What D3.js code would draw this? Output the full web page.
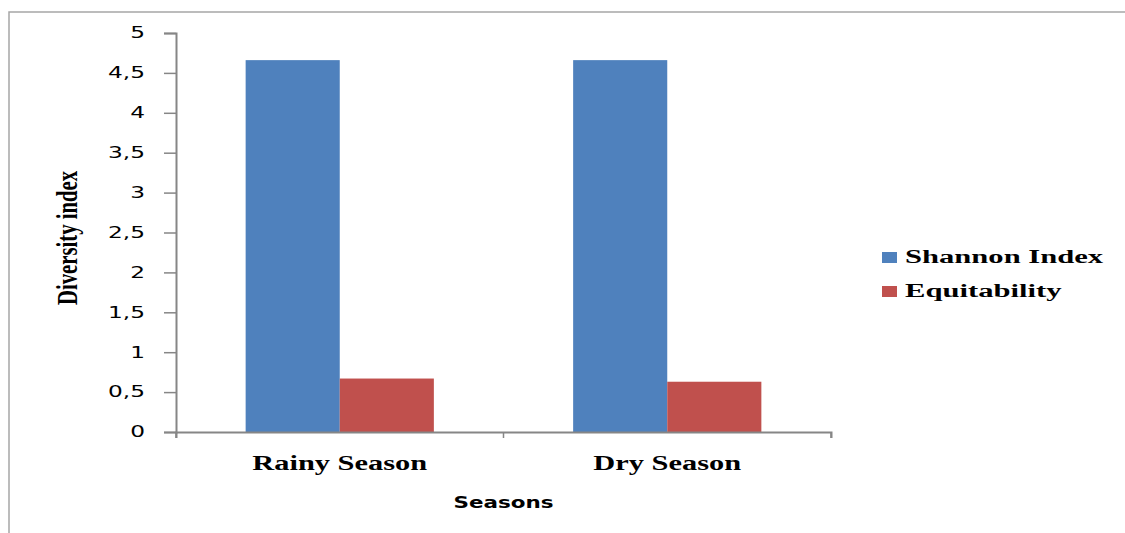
<!DOCTYPE html>
<html>
<head>
<meta charset="utf-8">
<script src="https://cdn.jsdelivr.net/npm/d3@7"></script>
<style>
  body { margin: 0; background: #fff; overflow: hidden; }
  svg { display: block; }
</style>
</head>
<body>
<div id="chart"></div>
<script>
// data
var seasons = ["Rainy Season", "Dry Season"];
var seriesNames = ["Shannon Index", "Equitability"];
var shannonValues = [4.66, 4.66];
var equitabilityValues = [0.67, 0.63];
var yTicks = [0, 0.5, 1, 1.5, 2, 2.5, 3, 3.5, 4, 4.5, 5];

var colors = {"Shannon Index": "#4F81BD", "Equitability": "#C0504D"};

var width = 1125, height = 533;
var margins = {top: 33, left: 176, right: 294, bottom: 101};
var plotW = width - margins.left - margins.right;
var plotH = height - margins.top - margins.bottom;

var rows = seasons.map(function(s, i) {
    return {season: s, values: [
        {name: seriesNames[0], value: shannonValues[i]},
        {name: seriesNames[1], value: equitabilityValues[i]}
    ]};
});

var svg = d3.select("#chart").append("svg")
    .attr("width", width)
    .attr("height", height);

// outer frame (only the left and top edges are in view)
svg.append("path")
    .attr("d", "M9," + (height + 5) + "V12H" + (width + 5))
    .attr("fill", "none")
    .attr("stroke", "#a6a6a6")
    .attr("stroke-width", 1.5);

// stretch text horizontally like the original (wide glyphs)
function stretch(sel, factor) {
    sel.each(function() {
        var len = this.getComputedTextLength();
        d3.select(this)
            .attr("textLength", len * factor)
            .attr("lengthAdjust", "spacingAndGlyphs");
    });
}

var g = svg.append("g")
    .attr("transform", "translate(" + margins.left + "," + margins.top + ")");

var x0 = d3.scaleBand()
    .domain(seasons)
    .range([0, plotW])
    .padding(0);

var x1 = d3.scaleBand()
    .domain(seriesNames)
    .range([0, x0.bandwidth()])
    .paddingInner(0)
    .paddingOuter(0.74);

var y = d3.scaleLinear()
    .domain([0, 5])
    .range([plotH, 0]);

// bars
g.selectAll(".group")
    .data(rows)
    .enter().append("g")
    .attr("class", "group")
    .attr("transform", function(d) { return "translate(" + x0(d.season) + ",0)"; })
    .selectAll("rect")
    .data(function(d) { return d.values; })
    .enter().append("rect")
    .attr("x", function(d) { return x1(d.name); })
    .attr("y", function(d) { return y(d.value); })
    .attr("width", x1.bandwidth())
    .attr("height", function(d) { return plotH - y(d.value); })
    .attr("fill", function(d) { return colors[d.name]; });

// y axis
var yAxis = g.append("g")
    .call(d3.axisLeft(y).tickValues(yTicks).tickSize(12).tickPadding(19)
        .tickFormat(function(d) { return String(d).replace(".", ","); }));
yAxis.select(".domain").attr("stroke", "#868686").attr("stroke-width", 2);
yAxis.selectAll(".tick line").attr("stroke", "#868686").attr("stroke-width", 1.5);
yAxis.selectAll(".tick text")
    .attr("fill", "#000")
    .style("font-family", "'DejaVu Sans', Verdana, sans-serif")
    .style("font-size", "15px")
    .call(stretch, 1.55);

// x axis
var xAxis = g.append("g")
    .attr("transform", "translate(0," + plotH + ")")
    .call(d3.axisBottom(x0).tickSize(6).tickSizeOuter(6).tickFormat(""));
xAxis.select(".domain").attr("stroke", "#868686").attr("stroke-width", 2);
xAxis.selectAll(".tick").remove();
// category boundary ticks
xAxis.selectAll(".bound")
    .data([0, x0.step(), plotW])
    .enter().append("line")
    .attr("x1", function(d) { return d; })
    .attr("x2", function(d) { return d; })
    .attr("y1", 0).attr("y2", 6)
    .attr("stroke", "#868686")
    .attr("stroke-width", 1.5);

xAxis.selectAll(".cat")
    .data(seasons)
    .enter().append("text")
    .attr("class", "cat")
    .attr("x", function(d) { return x0(d) + x0.bandwidth() / 2; })
    .attr("y", 38)
    .attr("text-anchor", "middle")
    .style("font-family", "'Liberation Serif', 'Times New Roman', serif")
    .style("font-weight", "bold")
    .style("font-size", "20px")
    .attr("fill", "#000")
    .text(function(d) { return d; })
    .call(stretch, 1.52);

// axis titles
g.append("text")
    .attr("x", plotW / 2)
    .attr("y", plotH + 76)
    .attr("text-anchor", "middle")
    .style("font-family", "'DejaVu Sans', Verdana, sans-serif")
    .style("font-weight", "bold")
    .style("font-size", "16px")
    .text("Seasons")
    .call(stretch, 1.34);

svg.append("text")
    .attr("transform", "translate(77,238) rotate(-90)")
    .attr("text-anchor", "middle")
    .style("font-family", "'Liberation Serif', 'Times New Roman', serif")
    .style("font-weight", "bold")
    .style("font-size", "30px")
    .text("Diversity index")
    .call(function(sel) {
        sel.attr("textLength", 134).attr("lengthAdjust", "spacingAndGlyphs");
    });

// legend
var legend = svg.append("g")
    .attr("transform", "translate(882,252)");
var item = legend.selectAll(".item")
    .data(seriesNames)
    .enter().append("g")
    .attr("class", "item")
    .attr("transform", function(d, i) { return "translate(0," + (i * 34) + ")"; });
item.append("rect")
    .attr("width", 15).attr("height", 11)
    .attr("fill", function(d) { return colors[d]; });
item.append("text")
    .attr("x", 23).attr("y", 11)
    .style("font-family", "'Liberation Serif', 'Times New Roman', serif")
    .style("font-weight", "bold")
    .style("font-size", "18px")
    .text(function(d) { return d; })
    .call(stretch, 1.7);
</script>
</body>
</html>
